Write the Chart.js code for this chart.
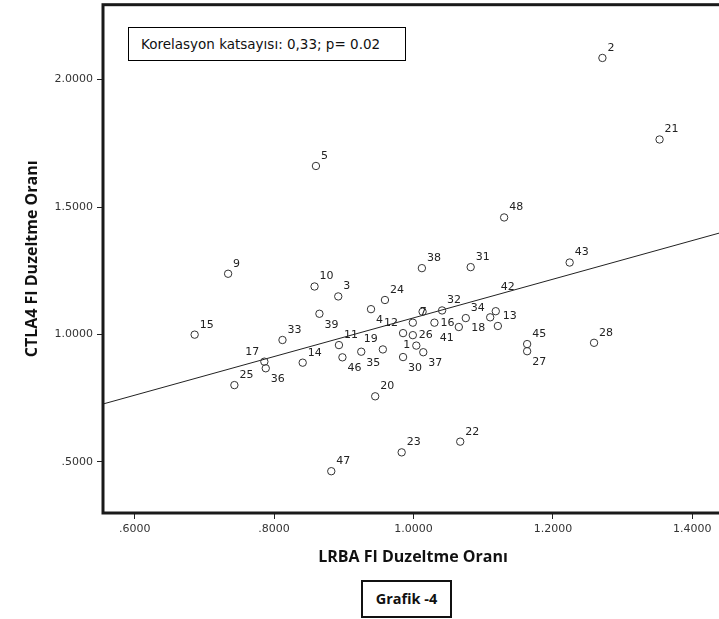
<!DOCTYPE html>
<html><head><meta charset="utf-8">
<script src="https://cdn.jsdelivr.net/npm/chart.js@4.4.1/dist/chart.umd.min.js"></script>
<style>
html,body{margin:0;padding:0;background:#fff;overflow:hidden;width:719px;height:619px;position:relative;}
#wrap{position:absolute;left:0;top:0;width:730px;height:575px;}
#c{display:block;}
#note{position:absolute;left:128px;top:27px;height:32px;border:1px solid #000;background:#fff;
  font:13.5px "DejaVu Sans",sans-serif;color:#111;line-height:32px;padding-left:12px;box-sizing:content-box;white-space:nowrap;width:264px;overflow:hidden;}
#cap{position:absolute;left:361px;top:580px;width:87px;height:34px;border:2px solid #111;
  font:bold 14.5px "Open Sans",sans-serif;color:#111;line-height:34px;text-align:center;}
</style></head>
<body>
<div id="wrap"><canvas id="c" width="730" height="575"></canvas></div>
<div id="note">Korelasyon katsayısı: 0,33; p= 0.02</div>
<div id="cap">Grafik -4</div>
<script>
// ---- data ----
const caseIds = ['2','21','5','48','43','38','31','9','10','3','24','4','','7','12','26','1','37','30','19','35','46','11','16','32','41','34','18','42','13','45','27','28','15','33','17','36','25','14','20','22','23','47','39'];
const lrbaRatio = [1.271,1.353,0.860,1.130,1.224,1.012,1.082,0.734,0.858,0.892,0.959,0.939,1.013,0.999,0.985,0.999,1.004,1.014,0.985,0.956,0.925,0.898,0.893,1.030,1.041,1.065,1.075,1.110,1.118,1.121,1.163,1.163,1.259,0.686,0.812,0.786,0.788,0.743,0.841,0.945,1.067,0.983,0.882,0.865];
const ctla4Ratio = [2.085,1.765,1.661,1.459,1.282,1.260,1.264,1.238,1.188,1.149,1.135,1.099,1.089,1.046,1.005,0.997,0.956,0.930,0.911,0.941,0.932,0.910,0.958,1.046,1.094,1.029,1.064,1.067,1.091,1.033,0.962,0.934,0.967,0.999,0.978,0.893,0.867,0.801,0.889,0.757,0.579,0.537,0.463,1.081];
const xTickValues = [0.6, 0.8, 1.0, 1.2, 1.4];
const yTickValues = [0.5, 1.0, 1.5, 2.0];
const xRange = [0.5545, 1.444];
const yRange = [0.299, 2.294];
const fitIntercept = 0.306;
const fitSlope = 0.7588;

// label placement (style only)
const labelPlace = {'4':'lr','12':'ul','26':'r','1':'l','37':'lr','30':'lr','19':'ul','35':'lr','46':'lr',
  '16':'r','41':'ll','18':'ll','42':'far','27':'lr','17':'ul','36':'lr','39':'lr','7':'in'};

const fmt = v => { const s = Number(v).toFixed(4); return v < 1 ? s.replace(/^0/, '') : s; };

const pointLabels = {
  id: 'pointLabels',
  afterDatasetsDraw(chart) {
    const ctx = chart.ctx;
    const meta = chart.getDatasetMeta(0);
    ctx.save();
    ctx.font = '11px "DejaVu Sans", sans-serif';
    ctx.fillStyle = '#222';
    ctx.textBaseline = 'middle';
    meta.data.forEach((pt, i) => {
      const t = caseIds[i];
      if (!t) return;
      const p = labelPlace[t] || 'ur';
      let x = pt.x, y = pt.y, align = 'left';
      if (p === 'ur') { x += 5; y -= 10; }
      else if (p === 'lr') { x += 5; y += 11; }
      else if (p === 'ul') { x -= 5; y -= 10; align = 'right'; }
      else if (p === 'll') { x -= 5; y += 11; align = 'right'; }
      else if (p === 'r') { x += 6; }
      else if (p === 'l') { x -= 6; align = 'right'; }
      else if (p === 'far') { x += 5; y -= 24; }
      else if (p === 'in') { x += 7; y -= 11; }
      ctx.textAlign = align;
      ctx.fillText(t, x, y);
    });
    ctx.restore();
  }
};

const frame = {
  id: 'frame',
  afterDraw(chart) {
    const a = chart.chartArea, ctx = chart.ctx;
    ctx.save();
    ctx.strokeStyle = '#1a1a1a';
    ctx.lineWidth = 3;
    ctx.strokeRect(a.left, a.top, a.right - a.left, a.bottom - a.top);
    ctx.restore();
  }
};

const tickFont = { family: '"DejaVu Sans", sans-serif', size: 11 };
const titleFont = { family: '"Open Sans", sans-serif', size: 16, weight: 'bold' };

new Chart(document.getElementById('c'), {
  type: 'scatter',
  data: {
    datasets: [
      {
        data: lrbaRatio.map((x, i) => ({ x, y: ctla4Ratio[i] })),
        pointRadius: 3.7,
        pointHoverRadius: 3.7,
        borderColor: '#333',
        backgroundColor: 'rgba(0,0,0,0)',
        borderWidth: 1,
        showLine: false
      },
      {
        type: 'line',
        data: xRange.map(x => ({ x, y: fitIntercept + fitSlope * x })),
        borderColor: '#222',
        borderWidth: 1,
        pointRadius: 0,
        fill: false
      }
    ]
  },
  options: {
    responsive: false,
    maintainAspectRatio: false,
    devicePixelRatio: 1,
    animation: false,
    events: [],
    layout: { padding: { top: 3, right: 7, left: 0, bottom: 0 } },
    plugins: { legend: { display: false }, tooltip: { enabled: false } },
    scales: {
      x: {
        type: 'linear',
        min: xRange[0], max: xRange[1],
        afterBuildTicks: s => { s.ticks = xTickValues.map(v => ({ value: v })); },
        afterFit: s => { s.height = 62; s.paddingLeft = 0; s.paddingRight = 0; },
        ticks: { callback: fmt, font: tickFont, color: '#333', padding: 4, maxRotation: 0 },
        grid: { drawOnChartArea: false, drawTicks: true, tickLength: 6, color: '#222', lineWidth: 1 },
        border: { display: false },
        title: { display: true, text: 'LRBA FI Duzeltme Oranı', font: titleFont, color: '#111', padding: { top: 0, bottom: 8 } }
      },
      y: {
        type: 'linear',
        min: yRange[0], max: yRange[1],
        afterBuildTicks: s => { s.ticks = yTickValues.map(v => ({ value: v })); },
        afterFit: s => { s.width = 103; s.paddingTop = 0; s.paddingBottom = 0; },
        ticks: { callback: fmt, font: tickFont, color: '#333', padding: 4 },
        grid: { drawOnChartArea: false, drawTicks: true, tickLength: 6, color: '#222', lineWidth: 1 },
        border: { display: false },
        title: { display: true, text: 'CTLA4 FI Duzeltme Oranı', font: titleFont, color: '#111', padding: { top: 23, bottom: 0 } }
      }
    }
  },
  plugins: [pointLabels, frame]
});
</script>
</body></html>
